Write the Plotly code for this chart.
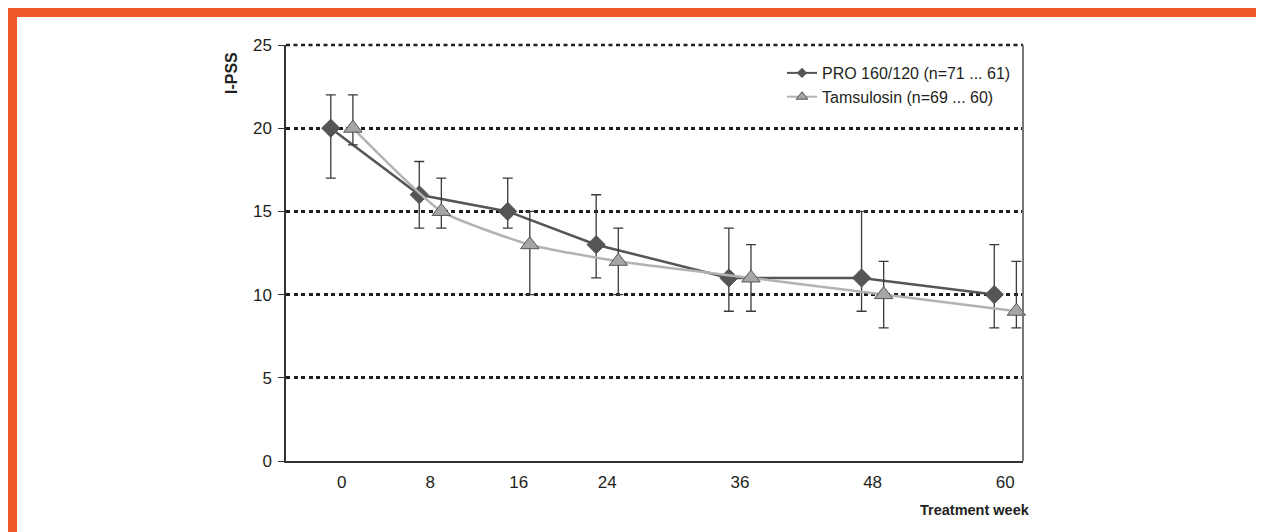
import plotly.graph_objects as go

# ---- data ----
weeks = [0, 8, 16, 24, 36, 48, 60]
tick_labels = ["0", "8", "16", "24", "36", "48", "60"]

pro_name = "PRO 160/120 (n=71 ... 61)"
pro_mean = [20, 16, 15, 13, 11, 11, 10]
pro_upper = [22, 18, 17, 16, 14, 15, 13]
pro_lower = [17, 14, 14, 11, 9, 9, 8]

tam_name = "Tamsulosin (n=69 ... 60)"
tam_mean = [20, 15, 13, 12, 11, 10, 9]
tam_upper = [22, 17, 15, 14, 13, 12, 12]
tam_lower = [19, 14, 10, 10, 9, 8, 8]

y_ticks = [0, 5, 10, 15, 20, 25]

# ---- layout geometry (figure pixels; page has an 8px body margin) ----
W, H = 1256, 524
OFF = 8
L, R, T, B = 286 - OFF, 1023 - OFF, 45 - OFF, 461 - OFF
pw, ph = R - L, B - T

def px(x):
    return (x - OFF - L) / pw

def py(y):
    return (B - (y - OFF)) / ph

offset = 1.0  # series side-by-side offset in weeks
pro_x = [w - offset for w in weeks]
tam_x = [w + offset for w in weeks]

text_col = "#231f20"
font_family = "Liberation Sans, Arial, Helvetica, sans-serif"

dark = "#555555"
light_line = "#b3b3b3"
tri_fill = "#a6a6a6"
grid_col = "#1e1e1e"
grid_dash = "4px,3.5px"

fig = go.Figure()

fig.add_trace(go.Scatter(
    x=pro_x, y=pro_mean, name=pro_name, mode="lines+markers",
    cliponaxis=False, showlegend=False,
    line=dict(color=dark, width=2.5),
    marker=dict(symbol="diamond", size=14, color=dark,
                line=dict(color=dark, width=1)),
    error_y=dict(type="data", symmetric=False,
                 array=[u - m for u, m in zip(pro_upper, pro_mean)],
                 arrayminus=[m - l for m, l in zip(pro_mean, pro_lower)],
                 color="#3a3a3a", thickness=1.3, width=5),
))

fig.add_trace(go.Scatter(
    x=tam_x, y=tam_mean, name=tam_name, mode="lines+markers",
    cliponaxis=False, showlegend=False,
    line=dict(color=light_line, width=2.5, shape="spline", smoothing=0.5),
    marker=dict(symbol="triangle-up", size=16, color=tri_fill,
                line=dict(color=dark, width=1)),
    error_y=dict(type="data", symmetric=False,
                 array=[u - m for u, m in zip(tam_upper, tam_mean)],
                 arrayminus=[m - l for m, l in zip(tam_mean, tam_lower)],
                 color="#3a3a3a", thickness=1.3, width=5),
))

# legend entries with the smaller legend symbols of the reference
fig.add_trace(go.Scatter(
    x=[None], y=[None], name=pro_name, mode="lines+markers",
    line=dict(color=dark, width=2),
    marker=dict(symbol="diamond", size=8, color=dark),
))
fig.add_trace(go.Scatter(
    x=[None], y=[None], name=tam_name, mode="lines+markers",
    line=dict(color=light_line, width=2),
    marker=dict(symbol="triangle-up", size=10, color=tri_fill,
                line=dict(color=dark, width=1)),
))

x_left = -5.05
x_right = 61.6

fig.update_layout(
    width=W, height=H,
    margin=dict(l=L, r=W - R, t=T, b=H - B, pad=0),
    paper_bgcolor="white", plot_bgcolor="white",
    font=dict(family=font_family, size=16, color=text_col),
    showlegend=True,
    legend=dict(x=px(782), y=py(56), xanchor="left", yanchor="top",
                bgcolor="rgba(0,0,0,0)", borderwidth=0,
                font=dict(size=16, color=text_col),
                itemsizing="trace", itemwidth=30, tracegroupgap=0),
    xaxis=dict(range=[x_left, x_right], tickmode="array",
               tickvals=weeks, ticktext=tick_labels,
               showgrid=False, zeroline=False, showline=True,
               linecolor="#333333", linewidth=1.5, ticks="",
               ticklabelstandoff=5,
               tickfont=dict(size=17, color=text_col)),
    yaxis=dict(range=[y_ticks[0], y_ticks[-1]], tickmode="array",
               tickvals=y_ticks,
               showgrid=True, gridcolor=grid_col, gridwidth=2.5,
               griddash=grid_dash, zeroline=False, showline=True,
               linecolor="#333333", linewidth=1.5, ticks="outside",
               ticklen=6, tickcolor="#333333", tickwidth=1,
               ticklabelstandoff=3,
               tickfont=dict(size=17, color=text_col)),
    annotations=[
        dict(text="<b>I-PSS</b>", x=px(232), y=py(50), xref="paper",
             yref="paper", xanchor="center", yanchor="top",
             textangle=-90, showarrow=False,
             font=dict(size=16, color=text_col)),
        dict(text="<b>Treatment week</b>", x=px(1032), y=py(510),
             xref="paper", yref="paper", xanchor="right",
             yanchor="middle", showarrow=False,
             font=dict(size=14.5, color=text_col)),
    ],
    shapes=[
        # dotted gridline at the top edge of the plot (plotly omits it)
        dict(type="line", xref="paper", yref="paper", x0=0, x1=1,
             y0=1, y1=1,
             line=dict(color=grid_col, width=2.5, dash=grid_dash)),
        dict(type="line", xref="paper", yref="paper", x0=1, x1=1,
             y0=0, y1=1, line=dict(color="#777777", width=2)),
        dict(type="rect", xref="paper", yref="paper", x0=px(8),
             x1=px(1280), y0=py(17), y1=py(8), fillcolor="#f05a28",
             line=dict(width=0), layer="above"),
        dict(type="rect", xref="paper", yref="paper", x0=px(8),
             x1=px(17), y0=py(545), y1=py(8), fillcolor="#f05a28",
             line=dict(width=0), layer="above"),
    ],
)

fig.write_html("out.html")
